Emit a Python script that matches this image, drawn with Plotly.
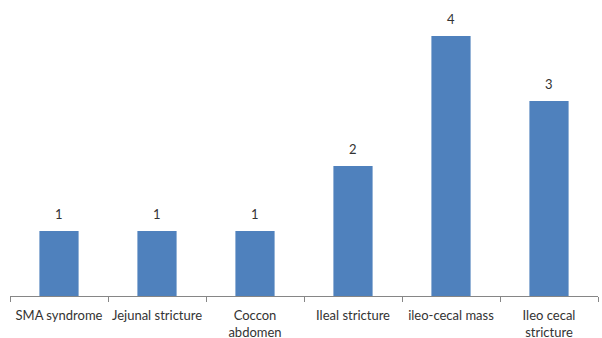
import plotly.graph_objects as go

categories = ["SMA syndrome", "Jejunal stricture", "Coccon<br>abdomen", "Ileal stricture",
              "ileo-cecal mass", "Ileo cecal<br>stricture"]
values = [1, 1, 1, 2, 4, 3]

fig = go.Figure(go.Bar(
    x=categories, y=values,
    marker=dict(color="#4F81BD", line=dict(width=0)),
    width=0.4,
    hoverinfo="x+y",
))

for c, v in zip(categories, values):
    fig.add_annotation(
        x=c, y=v, text=str(v), showarrow=False,
        yanchor="bottom", yshift=7,
        font=dict(family="Lato", size=13, color="#333333"),
    )

fig.update_layout(
    width=602, height=338,
    margin=dict(l=10, r=4, t=10, b=42),
    paper_bgcolor="white", plot_bgcolor="white",
    showlegend=False,
    font=dict(family="Lato", size=13, color="#333333"),
    bargap=0.6,
)
fig.update_xaxes(
    type="category",
    showline=True, linecolor="#868686", linewidth=1,
    ticks="outside", tickson="boundaries", ticklen=5, tickcolor="#868686",
    showgrid=False, tickangle=0, automargin=False,
    ticklabelstandoff=7,
    tickfont=dict(family="Lato", size=13, color="#333333"),
)
fig.update_yaxes(
    range=[0, 286 / 65], visible=False, showgrid=False, zeroline=False,
)

fig.write_html("out.html")
